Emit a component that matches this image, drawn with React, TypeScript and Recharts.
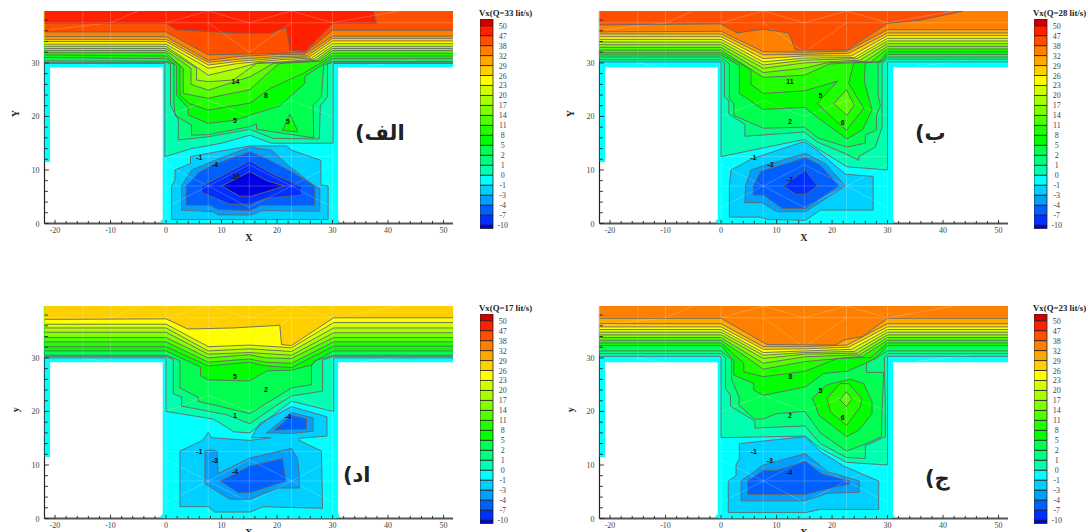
import { BarChart, Bar, ScatterChart, Scatter, XAxis, YAxis, ReferenceDot } from "recharts";

type Pt = [number, number];
type Contour = [number, Pt[]];
type ContourLabel = [string, number, number];

const X_MIN = -21.9;
const X_MAX = 51.7;
const Y_MAX = 39.7;

const xTicks = [-20, -18, -16, -14, -12, -10, -8, -6, -4, -2, 0, 2, 4, 6, 8, 10, 12, 14, 16, 18, 20, 22, 24, 26, 28, 30, 32, 34, 36, 38, 40, 42, 44, 46, 48, 50];
const yTicks = [0, 2, 4, 6, 8, 10, 12, 14, 16, 18, 20, 22, 24, 26, 28, 30, 32, 34, 36, 38];

const legendLevels = ["50", "47", "38", "32", "29", "26", "23", "20", "17", "14", "11", "8", "5", "2", "1", "0", "-1", "-3", "-4", "-7", "-10"];
const legendColors = ["#d00000", "#ff2000", "#ff5000", "#ff8000", "#ffa800", "#ffd000", "#ffff00", "#d0ff00", "#a8ff00", "#80ff00", "#50ff00", "#20ff00", "#00ff00", "#00ff50", "#00ff80", "#00ffb0", "#00ffff", "#00d0ff", "#00a0ff", "#0060ff", "#0030ff", "#0000e0"];

const levelColors: Record<number, string> = {
  47: "#ff2000", 38: "#ff5000", 32: "#ff8000", 29: "#ffa800", 26: "#ffd000", 23: "#ffff00", 20: "#d0ff00",
  17: "#a8ff00", 14: "#80ff00", 11: "#50ff00", 8: "#20ff00", 5: "#00ff00", 2: "#00ff50", 1: "#00ff80", 0: "#00ffb0",
  [-1]: "#00d0ff", [-3]: "#00a0ff", [-4]: "#0060ff", [-7]: "#0030ff", [-10]: "#0000e0",
};

// flow domain (T shaped channel), everything else stays white
const domainOutline: Pt[] = [
  [X_MIN, Y_MAX], [X_MAX, Y_MAX], [X_MAX, 29.2], [31, 29.2], [31, 0.8], [31.3, 0.4], [30.6, 0], [-0.3, 0], [-1.1, 0.4], [-0.6, 0.8],
  [-0.6, 29.2], [-20.9, 29.2], [-20.9, 11.5], [X_MIN, 11.5],
];

const meshLines: Pt[][] = [
  [[-15, 29.3], [-15, 39.7]], [[-10, 29.3], [-10, 39.7]], [[0, 0], [0, 39.7]], [[7.6, 0], [7.6, 39.7]], [[15, 0], [15, 39.7]],
  [[22.6, 0], [22.6, 39.7]], [[30, 0], [30, 39.7]], [[-21.9, 37.5], [51.7, 37.5]], [[0, 7], [30, 7]], [[0, 12.5], [30, 12.5]],
  [[0, 3], [7.6, 7], [15, 3], [22.6, 7], [30, 3]], [[0, 11], [7.6, 7], [15, 11], [22.6, 7], [30, 11]],
  [[-21, 36.2], [-10, 37.5], [-5, 39.7]], [[0, 37.5], [7.6, 39.7], [15, 37.5], [22.6, 39.7], [30, 37.5], [42, 39.7]],
  [[7.6, 37.5], [15, 32], [22.6, 37.5]], [[-15, 30], [-9, 28.9]], [[35, 29.3], [45, 30.6]], [[0, 20], [7.6, 23], [15, 20], [22.6, 23], [30, 20]],
];

const q33Lines: Contour[] = [
  [0, [[X_MIN, 29.9], [-0.2, 29.9], [-0.2, 12.5], [4.6, 14], [10, 15], [15.1, 16.5], [19, 15], [30.1, 15], [30.1, 29.9], [X_MAX, 29.9]]],
  [1, [[X_MIN, 30.1], [0, 30.1], [0.8, 29.8], [0.8, 22], [2.2, 19.5], [2.2, 15.6], [7.6, 16.2], [15.1, 17.6], [19.3, 15.9], [27.6, 15.8], [27.8, 22], [29.1, 23.7], [29.1, 29.8], [30, 30.1], [X_MAX, 30.1]]],
  [2, [[X_MIN, 30.4], [0, 30.3], [1.4, 29.8], [1.4, 23], [1.6, 20.2], [4.6, 18.4], [4.6, 16.5], [7.6, 16.6], [15.1, 18.1], [16.3, 18.6], [16.3, 17.6], [26.6, 16], [26.5, 22.1], [28, 23.7], [28.4, 29.6], [30, 30.3], [X_MAX, 30.3]]],
  [5, [[X_MIN, 31], [0, 30.8], [1.9, 29.5], [1.9, 24], [4, 21.5], [4, 20.3], [7.6, 18.7], [12.4, 19.3], [20.5, 22], [25, 26.2], [25, 27.5], [28.8, 30.1], [30, 30.8], [X_MAX, 30.8]]],
  [8, [[X_MIN, 31.5], [0, 31.3], [2.5, 29.5], [2.5, 24], [4.2, 22.4], [7.6, 21.2], [15.1, 22.5], [18.7, 25.2], [25, 28.2], [28.2, 30.2], [30, 31.3], [X_MAX, 31.3]]],
  [11, [[X_MIN, 31.9], [0, 31.9], [3.1, 29], [3.1, 24.3], [7.6, 23.4], [15.1, 25], [19, 28.7], [20.5, 29.9], [27.8, 30.3], [30, 31.8], [X_MAX, 31.8]]],
  [14, [[X_MIN, 32.3], [0, 32.3], [4.5, 29], [4.5, 26], [7.6, 24.9], [15.1, 27.4], [19.3, 29.9], [27.4, 30.4], [30, 32.3], [X_MAX, 32.3]]],
  [17, [[X_MIN, 32.7], [0, 32.7], [5.5, 29], [5.5, 26.8], [7.6, 26.5], [12.1, 26.8], [16.3, 29.9], [21.5, 30.1], [27, 30.5], [30, 32.7], [X_MAX, 32.7]]],
  [20, [[X_MIN, 33.1], [0, 33.1], [7.6, 27.7], [13, 29], [16.5, 30], [21, 30.2], [26.6, 30.7], [30, 33.1], [X_MAX, 33.1]]],
  [23, [[X_MIN, 33.5], [0, 33.5], [7.6, 29], [13, 29.9], [20.5, 30.6], [26.2, 30.9], [30, 33.6], [X_MAX, 33.6]]],
  [26, [[X_MIN, 34], [0, 34], [7.6, 29.6], [13, 30.3], [20.5, 30.9], [25.8, 31.1], [30, 34.1], [X_MAX, 34.1]]],
  [29, [[X_MIN, 34.4], [0, 34.4], [7.6, 30.1], [13, 30.7], [20.5, 31.2], [25.4, 31.3], [30, 34.6], [X_MAX, 34.6]]],
  [32, [[X_MIN, 34.9], [0, 34.9], [7.6, 30.5], [13, 31.2], [20.5, 31.6], [25, 31.6], [30, 35], [X_MAX, 35]]],
  [38, [[X_MIN, 35.8], [0, 35.8], [7.6, 31.5], [20.5, 31.8], [25, 31.9], [30, 36.1], [X_MAX, 36.1]]],
  [47, [[X_MIN, 37.4], [0, 37.4], [1.8, 36.2], [12.3, 35.6], [18.7, 35.5], [21.7, 36.6], [22.3, 32.4], [25, 32.1], [30.1, 37.4], [37.9, 37.4], [37.3, 39.7]]],
];
const q33Islands: Contour[] = [
  [5, [[21, 17.4], [22.3, 20.5], [23.8, 17.1]]],
  [-1, [[1, 0.75], [1, 7], [1.6, 8.1], [1.6, 10], [4.4, 11.2], [4.4, 12.5], [15.1, 14.5], [21.7, 14.5], [22.6, 13.7], [27.9, 11.8], [27.9, 7.2], [29.2, 7], [29.2, 0.75]]],
  [-3, [[2.8, 2.5], [8.5, 2.2], [9.4, 1.6], [15.4, 1.6], [17.2, 2.4], [27.7, 2.3], [27.7, 6.5], [26.8, 7], [23.4, 9.7], [22.3, 10.6], [19, 13.7], [15.1, 14.3], [8.8, 11.8], [4.6, 10], [2.8, 7]]],
  [-4, [[3.6, 3.4], [7.9, 3.4], [9.4, 2.6], [15.1, 2.4], [17.2, 3.4], [26.8, 3.4], [26.8, 7], [22.6, 9.7], [18.1, 12.1], [15.1, 13.4], [9.1, 11.2], [6.1, 9.7], [3.6, 7]]],
  [-7, [[6.4, 5.8], [11.5, 3.6], [15.1, 3.6], [18.1, 4.7], [24.4, 5.3], [24.4, 7], [19.3, 9.2], [15.1, 11.7], [11.5, 9.7], [6.4, 7]]],
  [-10, [[10, 7], [13.3, 5.1], [15.4, 5.1], [21.4, 7], [18.1, 8], [15.1, 9.7]]],
];
const q33Labels: ContourLabel[] = [["14", 12.5, 26.5], ["8", 18, 24], ["5", 12.4, 19.2], ["5", 21.9, 19], ["-1", 6, 12.3], ["-4", 8.8, 11], ["-10", 12.4, 8.7]];

const q28Lines: Contour[] = [
  [0, [[X_MIN, 30.2], [0, 30.2], [0, 12.5], [15, 15.7], [17.4, 14], [22.7, 10.6], [30, 10], [30, 30.2], [X_MAX, 30.2]]],
  [1, [[X_MIN, 30.6], [0, 30.6], [0.6, 30], [0.6, 23.7], [1.4, 23], [1.4, 20.5], [4.3, 18.5], [4.3, 16.3], [15, 17.1], [17.4, 15.2], [22.7, 12.9], [24.8, 11.8], [24.8, 12.5], [27.8, 14.3], [29, 18], [29, 30], [30, 30.7], [X_MAX, 30.7]]],
  [2, [[X_MIN, 31.1], [0, 31.1], [1.5, 29.8], [1.5, 23.4], [2.3, 22.4], [2.3, 20.2], [7.6, 17.8], [15, 18], [17.4, 16], [22.7, 14.3], [26, 15], [26, 16.5], [28, 17.5], [28, 20.2], [28.7, 22], [28.3, 24], [28.3, 30], [30, 31.1], [X_MAX, 31.1]]],
  [5, [[X_MIN, 31.5], [0, 31.5], [3.3, 29.5], [3.3, 24.3], [7.6, 21.3], [15.1, 21.7], [17.5, 19.7], [22.7, 15.8], [25.5, 17.5], [27.2, 21.2], [25.8, 26.6], [26, 30], [29, 30.2], [30, 31.6], [X_MAX, 31.6]]],
  [8, [[X_MIN, 31.9], [0, 31.9], [5.4, 28.7], [5.4, 26], [7.6, 24.3], [15.1, 24.8], [21, 26.6], [17.3, 22.4], [22.6, 17.4], [25.7, 21.5], [23, 26.2], [23.9, 30], [28.5, 30.2], [30, 32.1], [X_MAX, 32.1]]],
  [11, [[X_MIN, 32.4], [0, 32.4], [7.6, 27.3], [15, 27.7], [19.5, 29.8], [27, 30.2], [30, 32.6], [X_MAX, 32.6]]],
  [14, [[X_MIN, 32.9], [0, 32.9], [7.6, 28.2], [15, 29], [19, 30], [26, 30.3], [30, 33.1], [X_MAX, 33.1]]],
  [17, [[X_MIN, 33.4], [0, 33.4], [7.6, 29], [15, 30], [25, 30.5], [30, 33.6], [X_MAX, 33.6]]],
  [20, [[X_MIN, 33.9], [0, 33.9], [7.6, 29.6], [15, 30.5], [24.5, 30.8], [30, 34.1], [X_MAX, 34.1]]],
  [23, [[X_MIN, 34.4], [0, 34.4], [7.6, 30.2], [15, 30.9], [24, 31], [30, 34.6], [X_MAX, 34.6]]],
  [26, [[X_MIN, 34.9], [0, 34.9], [7.6, 30.8], [15, 31.3], [23.5, 31.3], [30, 35.1], [X_MAX, 35.1]]],
  [29, [[X_MIN, 35.4], [0, 35.4], [7.6, 31.5], [15, 31.6], [23, 31.8], [30, 35.6], [X_MAX, 35.6]]],
  [32, [[X_MIN, 35.8], [0, 35.9], [7.6, 32.1], [15, 32], [22.7, 32.2], [30, 36.2], [X_MAX, 36.2]]],
  [38, [[X_MIN, 37.1], [0, 37.3], [2.9, 35.6], [7.6, 36.3], [12.2, 35.6], [13.4, 32.4], [22.7, 32.4], [30, 37.4], [35.9, 38], [43.7, 39.7]]],
];
const q28Islands: Contour[] = [
  [11, [[20.3, 22.4], [22.6, 25], [24, 22.1], [22.7, 20.2]]],
  [-1, [[1.5, 1.2], [1.5, 7.2], [1.8, 10], [5.6, 12.1], [14.9, 15.3], [17.3, 13.7], [22.4, 9.2], [27.4, 8.8], [27.4, 2.5], [17.9, 2.5], [15.2, 0.6], [8.3, 0.75], [7.1, 1.2]]],
  [-3, [[4.3, 3.9], [4.4, 7], [5.4, 10], [8.9, 11.2], [15.2, 13.1], [18.8, 11.2], [22.4, 7], [15.2, 2.2], [10.1, 2.2], [7.4, 3.9]]],
  [-4, [[5.8, 5.3], [5.8, 7], [7.1, 9.7], [15.2, 12.3], [17.9, 10.9], [21.2, 7], [15.2, 2.8], [11, 2.8], [7.7, 5.3]]],
  [-7, [[11.2, 7], [13.6, 5.4], [15.2, 5.4], [17.4, 7], [15.2, 10]]],
];
const q28Labels: ContourLabel[] = [["11", 12.4, 26.5], ["5", 17.9, 24], ["6", 21.9, 18.9], ["2", 12.4, 19], ["-1", 5.8, 12.3], ["-3", 8.9, 11], ["-7", 12.4, 8.3]];

const q17Lines: Contour[] = [
  [0, [[X_MIN, 30], [0, 30], [0, 20], [8.5, 18.6], [11.5, 16.7], [12.1, 16.2], [15.1, 16], [21.7, 21.2], [22.6, 21.9], [30.2, 20], [30.2, 30], [X_MAX, 30]]],
  [1, [[X_MIN, 30.3], [0, 30.3], [1.3, 29.7], [1.3, 23.3], [2.8, 22.7], [2.8, 21], [10.9, 19.4], [15.1, 17.7], [20, 21.2], [22.6, 22.9], [28.2, 23.8], [28.2, 29.6], [30.2, 30.3], [X_MAX, 30.3]]],
  [2, [[X_MIN, 30.5], [0, 30.5], [2.5, 29.5], [2.5, 24.4], [5.8, 22.6], [5.8, 21.9], [15.1, 19.6], [22.6, 24.4], [26.2, 25], [26.2, 28.5], [26.8, 29.5], [30.2, 30.5], [X_MAX, 30.5]]],
  [5, [[X_MIN, 31.3], [0, 31.3], [6.2, 28.3], [6.2, 26.7], [7.6, 25.9], [15, 25.7], [18.2, 27.6], [22.6, 27.7], [26.2, 28.7], [27, 29.5], [30.2, 31.3], [X_MAX, 31.3]]],
  [8, [[X_MIN, 32.1], [0, 32.1], [7.6, 28.5], [15, 29.2], [18, 28.5], [22.6, 28.2], [30.2, 32.2], [X_MAX, 32.2]]],
  [11, [[X_MIN, 33], [0, 33], [7.6, 29.2], [15, 29.8], [18, 29.2], [22.6, 29], [30.2, 33], [X_MAX, 33]]],
  [14, [[X_MIN, 33.8], [0, 33.8], [7.6, 30], [15, 30.6], [18, 30], [22.6, 29.9], [30.2, 33.8], [X_MAX, 33.8]]],
  [17, [[X_MIN, 34.8], [0, 34.8], [7.6, 30.7], [15, 31], [22.6, 30.5], [30.2, 34.7], [X_MAX, 34.7]]],
  [20, [[X_MIN, 35.6], [0, 35.6], [7.6, 31.3], [15, 31.7], [22.6, 31.2], [30.2, 35.6], [X_MAX, 35.6]]],
  [23, [[X_MIN, 36.3], [0, 36.3], [7.6, 32.1], [15, 32.4], [22.6, 31.9], [30.2, 36.6], [X_MAX, 36.6]]],
  [26, [[X_MIN, 37.2], [0, 37.3], [3.9, 35.4], [12.1, 35.6], [20.5, 36.1], [20.8, 32.5], [22.6, 32.3], [30.2, 37.5], [X_MAX, 37.5]]],
];
const q17Islands: Contour[] = [
  [-1, [[2.5, 2.2], [2.5, 12.6], [6.6, 14.6], [7.6, 16.1], [8.2, 15.1], [15.1, 14.6], [18.9, 15.1], [15.4, 15.1], [16.9, 17.8], [22.6, 20.9], [29, 19], [29, 15.4], [24, 15], [24, 14.6], [28, 12.6], [28.2, 1.9], [17.5, 2.2], [15.1, 1.2], [8.8, 1.2], [7.6, 2.2]]],
  [-3, [[7, 12.6], [7, 6.5], [11.5, 3.6], [15.1, 3.6], [20.2, 5.7], [24, 5.7], [24, 8.1], [23.7, 11.2], [22.6, 13.1], [15.1, 11.3], [9.4, 8.4], [9.2, 12.5], [8.5, 12.8], [7.6, 12.8]]],
  [-4, [[9.8, 7], [13, 4.8], [15.1, 4.8], [21.6, 7], [21, 11.2], [15.1, 9.8]]],
  [-3, [[18.1, 16], [22.6, 19.8], [26.5, 18.8], [26.5, 16.3], [22.6, 15.9]]],
  [-4, [[19.5, 16.5], [22.6, 19.3], [25.3, 18.6], [25.3, 16.7]]],
];
const q17Labels: ContourLabel[] = [["5", 12.4, 26.5], ["2", 18, 24.1], ["1", 12.4, 19.2], ["-4", 22, 19], ["-1", 6, 12.5], ["-3", 8.8, 10.9], ["-4", 12.4, 8.7]];

const q23Lines: Contour[] = [
  [0, [[X_MIN, 30.3], [0, 30.3], [0, 15.1], [15.1, 15.4], [17.9, 13.1], [22.6, 10.5], [30, 10], [30, 30.3], [X_MAX, 30.3]]],
  [1, [[X_MIN, 30.8], [0, 30.8], [0.8, 30], [0.8, 24.3], [1.7, 23], [1.7, 21], [6.1, 18.2], [6.1, 16.9], [15.1, 17.3], [17.9, 14], [22.6, 11.4], [26, 11.2], [26, 13.6], [29.6, 15.3], [29.6, 21], [29.4, 30], [30, 30.8], [X_MAX, 30.8]]],
  [2, [[X_MIN, 31.3], [0, 31.3], [1.9, 29.7], [1.9, 26], [3.3, 22.5], [3.2, 21.2], [6, 18.6], [7.6, 18.6], [10, 19.6], [15.1, 20], [17.9, 16], [22.6, 12.6], [26, 13.9], [28.9, 15.3], [29, 20], [29.3, 27.3], [26.2, 27.3], [26.2, 29], [28, 30], [30, 31.3], [X_MAX, 31.3]]],
  [5, [[X_MIN, 32.3], [0, 32.3], [2.3, 29.5], [2.3, 26.8], [5.9, 25.2], [5.9, 24], [7.6, 23], [15.2, 24.6], [18.5, 27.1], [22.7, 27.5], [26, 29], [28, 30.1], [30, 32.3], [X_MAX, 32.3]]],
  [8, [[X_MIN, 32.8], [0, 32.8], [4.1, 29], [4.1, 27.4], [7.6, 26.5], [15.1, 27.5], [21, 29.9], [27, 30.1], [30, 32.8], [X_MAX, 32.8]]],
  [11, [[X_MIN, 33.3], [0, 33.3], [5.5, 29.5], [7.6, 27.9], [15, 29.3], [25.5, 30.3], [30, 33.3], [X_MAX, 33.3]]],
  [14, [[X_MIN, 33.8], [0, 33.8], [7.6, 29], [15, 30.2], [25, 30.6], [30, 33.8], [X_MAX, 33.8]]],
  [17, [[X_MIN, 34.3], [0, 34.3], [7.6, 29.9], [15, 30.7], [24.5, 30.9], [30, 34.3], [X_MAX, 34.3]]],
  [20, [[X_MIN, 34.8], [0, 34.8], [7.6, 30.5], [15, 31], [24, 31.2], [30, 34.8], [X_MAX, 34.8]]],
  [23, [[X_MIN, 35.3], [0, 35.3], [7.6, 31], [15, 31.3], [23.5, 31.6], [30, 35.3], [X_MAX, 35.3]]],
  [26, [[X_MIN, 35.8], [0, 35.8], [7.6, 31.6], [15, 31.7], [23, 32], [30, 35.8], [X_MAX, 35.8]]],
  [29, [[X_MIN, 36.4], [0, 36.4], [7.6, 32.1], [15, 32.1], [22.7, 32.4], [30, 36.4], [X_MAX, 36.4]]],
  [32, [[X_MIN, 37.4], [0, 37.4], [7.6, 32.9], [8.3, 32.5], [20.5, 32.4], [22.3, 33.4], [25.5, 34], [30, 37.4], [X_MAX, 37.4]]],
];
const q23Islands: Contour[] = [
  [5, [[16.4, 22.4], [19.1, 25], [23.3, 26], [25.7, 25.2], [27.2, 21.8], [27.2, 19.6], [24.8, 16.5], [22.6, 15.3], [17.6, 19.3], [17, 21.2]]],
  [8, [[19.1, 22.4], [21.4, 25.2], [23, 25.2], [25.4, 22.4], [25.1, 20.9], [22.6, 17.4], [19.7, 19.9]]],
  [11, [[21.4, 22.2], [22.6, 23.7], [23.6, 22.3], [22.6, 20.9]]],
  [-1, [[1.3, 1.1], [1.3, 7], [2.7, 8], [2.7, 10], [3.3, 11.2], [3.3, 14], [15.2, 15.3], [17.9, 12.5], [22.1, 9.8], [28.4, 7], [28.4, 1.7], [17.9, 1.7], [15.2, 1.1]]],
  [-3, [[3.6, 3.3], [3.6, 7], [7.6, 10], [15.2, 12.1], [19.3, 8.7], [24.9, 7], [24.9, 4.9], [19.1, 4.7], [15.2, 3.3]]],
  [-4, [[4.8, 4.5], [4.8, 7], [7.6, 9], [10.1, 9], [15.2, 10.7], [18.2, 8.3], [23.2, 7], [23.2, 6.5], [15.2, 4.5]]],
];
const q23Labels: ContourLabel[] = [["8", 12.5, 26.6], ["5", 17.9, 24], ["6", 21.9, 18.9], ["2", 12.4, 19.2], ["-1", 5.9, 12.5], ["-3", 8.8, 10.9], ["-4", 12.3, 8.6]];

const SERIF = "'Liberation Serif', serif";

const toData = (pts: Pt[]) => pts.map(([x, y]) => ({ x, y }));
const closeRing = (pts: Pt[]) => [...pts, pts[0]];
const closeToTop = (pts: Pt[]): Pt[] => [...pts, [X_MAX, Y_MAX], [X_MIN, Y_MAX], pts[0]];
const noMark = () => null;

function XTick({ x, y, payload }: any) {
  const major = payload.value % 10 === 0;
  return (
    <g>
      <line x1={x} x2={x} y1={y} y2={y - (major ? 3.6 : 2.6)} stroke="#222" strokeWidth={0.9} />
      {major && (
        <text x={x} y={y + 9} textAnchor="middle" fontSize={8} fontFamily={SERIF} fill="#444">
          {payload.value}
        </text>
      )}
    </g>
  );
}

function YTick({ x, y, payload }: any) {
  const major = payload.value % 10 === 0;
  return (
    <g>
      <line x1={x} x2={x + (major ? 4.4 : 3.4)} y1={y} y2={y} stroke="#222" strokeWidth={0.9} />
      {major && (
        <text x={x - 5} y={y + 3} textAnchor="end" fontSize={8} fontFamily={SERIF} fill="#444">
          {payload.value}
        </text>
      )}
    </g>
  );
}

function ContourPanel({ left, top, yTitle, lines, islands, labels }: { left: number; top: number; yTitle: string; lines: Contour[]; islands: Contour[]; labels: ContourLabel[] }) {
  return (
    <div style={{ position: "absolute", left, top }}>
      <ScatterChart width={461} height={253.5} margin={{ top: 11, right: 8, bottom: 0, left: 0 }}>
        <Scatter data={toData(closeRing(domainOutline))} shape={noMark} isAnimationActive={false} line={{ fill: "#00ffff", stroke: "none" }} />
        {lines.map(([level, pts], i) => (
          <Scatter key={`fill-${i}`} data={toData(closeToTop(pts))} shape={noMark} isAnimationActive={false} line={{ fill: levelColors[level], stroke: "none" }} />
        ))}
        {islands.map(([level, pts], i) => (
          <Scatter key={`island-${i}`} data={toData(closeRing(pts))} shape={noMark} isAnimationActive={false} line={{ fill: levelColors[level], stroke: "none" }} />
        ))}
        {meshLines.map((pts, i) => (
          <Scatter key={`mesh-${i}`} data={toData(pts)} shape={noMark} isAnimationActive={false} line={{ fill: "none", stroke: "#ffffff", strokeOpacity: 0.3, strokeWidth: 0.7 }} />
        ))}
        {lines.map(([, pts], i) => (
          <Scatter key={`line-${i}`} data={toData(pts)} shape={noMark} isAnimationActive={false} line={{ fill: "none", stroke: "#666666", strokeWidth: 0.9 }} />
        ))}
        {islands.map(([, pts], i) => (
          <Scatter key={`ring-${i}`} data={toData(closeRing(pts))} shape={noMark} isAnimationActive={false} line={{ fill: "none", stroke: "#666666", strokeWidth: 0.9 }} />
        ))}
        {labels.map(([text, x, y], i) => (
          <ReferenceDot
            key={`label-${i}`}
            x={x}
            y={y}
            r={0}
            fill="none"
            stroke="none"
            label={{ value: text, position: "center", fontSize: 7, fontWeight: 700, fontFamily: "'Liberation Sans', sans-serif", fill: "#111" }}
          />
        ))}
        <XAxis
          type="number"
          dataKey="x"
          domain={[X_MIN, X_MAX]}
          ticks={xTicks}
          interval={0}
          allowDataOverflow
          height={30}
          tickSize={0}
          tickMargin={0}
          tickLine={false}
          tick={XTick}
          axisLine={{ stroke: "#555", strokeWidth: 1.8 }}
          label={{ value: "X", position: "insideBottom", offset: 13, fontSize: 10, fontWeight: 700, fontFamily: SERIF, fill: "#222" }}
        />
        <YAxis
          type="number"
          dataKey="y"
          domain={[0, Y_MAX]}
          ticks={yTicks}
          interval={0}
          allowDataOverflow
          width={44.5}
          tickSize={0}
          tickMargin={0}
          tickLine={false}
          tick={YTick}
          axisLine={{ stroke: "#222", strokeWidth: 1.2 }}
          label={{ value: yTitle, angle: -90, position: "insideLeft", offset: 15, fontSize: 10, fontWeight: 700, fontFamily: SERIF, fill: "#222" }}
        />
      </ScatterChart>
    </div>
  );
}

// boundaries of the colour bar: small end cells, unit cells in between
const legendBands = legendColors.map((_, i) => (i === 0 ? 0.67 : i === legendColors.length - 1 ? 0.35 : 1));
const legendRow = Object.fromEntries(legendBands.map((h, i) => [`c${i}`, h]));
const legendTicks = legendLevels.map((_, i) => 0.35 + (legendLevels.length - 1 - i));

function LegendTick({ x, y, payload }: any) {
  const idx = legendTicks.indexOf(payload.value);
  return (
    <text x={x + 9.8} y={y + 3} textAnchor="middle" fontSize={8} fontFamily={SERIF} fill="#444">
      {legendLevels[idx]}
    </text>
  );
}

function ColorLegend({ left, top, title }: { left: number; top: number; title: string }) {
  return (
    <>
      <div style={{ position: "absolute", left: left - 0.5, top: top - 10, fontFamily: SERIF, fontWeight: 700, fontSize: 8.8, lineHeight: "9px", whiteSpace: "nowrap", color: "#222" }}>{title}</div>
      <div style={{ position: "absolute", left, top }}>
        <BarChart width={41} height={215.5} data={[legendRow]} margin={{ top: 0, right: 0, bottom: 6, left: 0 }} barCategoryGap={0}>
          <XAxis hide type="category" />
          <YAxis
            orientation="right"
            type="number"
            domain={[0, 21.02]}
            ticks={legendTicks}
            interval={0}
            width={28}
            tickSize={0}
            tickMargin={0}
            tickLine={false}
            axisLine={false}
            tick={LegendTick}
          />
          {/* stacked bottom first, so the list runs from the last colour up */}
          {[...legendColors].reverse().map((color, i) => (
            <Bar key={color} dataKey={`c${legendColors.length - 1 - i}`} stackId="bar" fill={color} stroke="#222" strokeWidth={0.8} isAnimationActive={false} />
          ))}
        </BarChart>
      </div>
    </>
  );
}

function PanelTag({ left, top, text }: { left: number; top: number; text: string }) {
  return (
    <div style={{ position: "absolute", left, top, direction: "rtl", fontFamily: "'DejaVu Sans', sans-serif", fontWeight: 700, fontSize: 21, lineHeight: "30px", whiteSpace: "nowrap", color: "#222" }}>{text}</div>
  );
}

export default function App() {
  return (
    <div style={{ position: "absolute", left: 0, top: 0, width: 1088, height: 532, overflow: "hidden", background: "#fff" }}>
      <ContourPanel left={0} top={0} yTitle="Y" lines={q33Lines} islands={q33Islands} labels={q33Labels} />
      <ContourPanel left={555} top={0} yTitle="Y" lines={q28Lines} islands={q28Islands} labels={q28Labels} />
      <ContourPanel left={0} top={294.5} yTitle="y" lines={q17Lines} islands={q17Islands} labels={q17Labels} />
      <ContourPanel left={555} top={294.5} yTitle="y" lines={q23Lines} islands={q23Islands} labels={q23Labels} />
      <ColorLegend left={479.5} top={19.3} title="Vx(Q=33 lit/s)" />
      <ColorLegend left={1033.5} top={19.3} title="Vx(Q=28 lit/s)" />
      <ColorLegend left={479.5} top={314} title="Vx(Q=17 lit/s)" />
      <ColorLegend left={1033.5} top={314} title="Vx(Q=23 lit/s)" />
      <PanelTag left={355} top={118} text="الف)" />
      <PanelTag left={915} top={118} text="ب)" />
      <PanelTag left={343} top={460} text="اد)" />
      <PanelTag left={925} top={463} text="ج)" />
    </div>
  );
}
